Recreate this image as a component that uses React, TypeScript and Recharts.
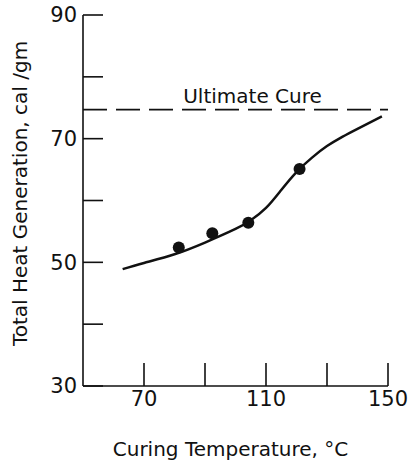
import React from "react";
import {
  ComposedChart, Line, Scatter, XAxis, YAxis, ReferenceLine,
} from "recharts";

// fitted curve (temperature °C, cal/gm)
const curveTemps = [63, 70, 80, 90, 100, 105, 110, 115, 120, 125, 130, 135, 140, 148];
const curveHeat = [48.9, 49.9, 51.3, 53.2, 55.4, 56.8, 58.8, 61.7, 64.6, 66.9, 68.8, 70.3, 71.6, 73.6];

// measured points
const pointTemps = [81.4, 92.4, 104.2, 121.0];
const pointHeat = [52.4, 54.7, 56.4, 65.1];

const ultimateCure = 74.7;

const xTicks = [70, 90, 110, 130, 150];
const xLabelled = [70, 110, 150];
const yTicks = [30, 40, 50, 60, 70, 80, 90];
const yLabelled = [30, 50, 70, 90];

const curve = curveTemps.map((t, i) => ({ temp: t, heat: curveHeat[i] }));
const points = pointTemps.map((t, i) => ({ temp: t, heat: pointHeat[i] }));

const FONT = "'DejaVu Sans', sans-serif";
const INK = "#111";

function YTitle(props: any) {
  const { viewBox } = props;
  const cx = 27;
  const cy = viewBox.y + viewBox.height / 2 - 7;
  return (
    <text x={cx} y={cy} transform={`rotate(-90 ${cx} ${cy})`} textAnchor="middle"
      fontFamily={FONT} fontSize={20} fill={INK}>
      Total Heat Generation, cal /gm
    </text>
  );
}

export default function App() {
  return (
    <div style={{ position: "absolute", left: 0, top: 0, background: "#fff" }}>
      <ComposedChart width={411} height={460} margin={{ top: 15, right: 23, left: 0, bottom: 0 }}>
        <XAxis
          type="number" dataKey="temp" domain={[50, 150]} ticks={xTicks} height={74}
          tickFormatter={(v) => (xLabelled.includes(v) ? String(v) : "")}
          tickSize={-23} tickMargin={28}
          tick={{ fontSize: 21, fill: INK, fontFamily: FONT }}
          axisLine={{ stroke: INK, strokeWidth: 1.6 }}
          tickLine={{ stroke: INK, strokeWidth: 1.6 }}
          label={{ value: "Curing Temperature, °C", position: "insideBottom", offset: 4, dx: -5,
            style: { fontSize: 20, fill: INK, fontFamily: FONT } }}
        />
        <YAxis
          type="number" dataKey="heat" domain={[30, 90]} ticks={yTicks} width={83}
          tickFormatter={(v) => (yLabelled.includes(v) ? String(v) : "")}
          tickSize={-20} tickMargin={26}
          tick={{ fontSize: 21, fill: INK, fontFamily: FONT }}
          axisLine={{ stroke: INK, strokeWidth: 1.6 }}
          tickLine={{ stroke: INK, strokeWidth: 1.6 }}
          label={<YTitle />}
        />
        <ReferenceLine
          y={ultimateCure} stroke={INK} strokeWidth={1.8} strokeDasharray="24 9"
          label={{ value: "Ultimate Cure", position: "top", offset: 7, dx: 17,
            style: { fontSize: 20, fill: INK, fontFamily: FONT } }}
        />
        <Line
          data={curve} dataKey="heat" type="natural" stroke={INK} strokeWidth={2.5}
          dot={false} activeDot={false} isAnimationActive={false}
        />
        <Scatter data={points} dataKey="heat" fill={INK} shape={(p: any) => (
          <circle cx={p.cx} cy={p.cy} r={6} fill={INK} />
        )} isAnimationActive={false} />
      </ComposedChart>
    </div>
  );
}
